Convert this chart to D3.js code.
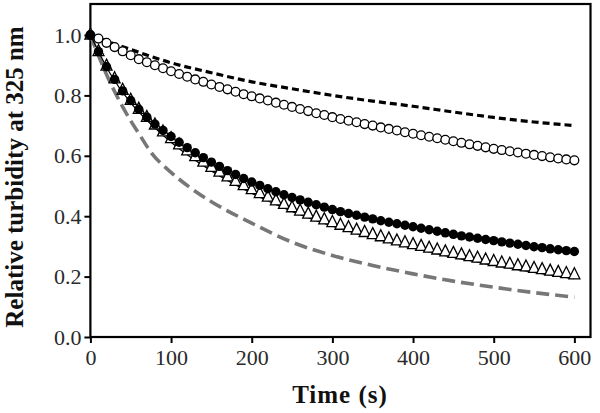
<!DOCTYPE html>
<html><head><meta charset="utf-8">
<script src="https://cdn.jsdelivr.net/npm/d3@7/dist/d3.min.js"></script>
<style>body{margin:0;background:#fff}svg{display:block}</style>
</head><body><svg id="c" width="600" height="413"></svg>
<script>
const xTicks=[0,100,200,300,400,500,600];
const yTicks=[0.0,0.2,0.4,0.6,0.8,1.0];
const markerTimes=d3.range(0,601,10);
const openCircles=[1.000,0.988,0.974,0.960,0.946,0.933,0.920,0.910,0.900,0.890,0.880,0.871,0.862,0.853,0.845,0.836,0.828,0.820,0.812,0.804,0.797,0.790,0.783,0.776,0.769,0.762,0.755,0.748,0.741,0.735,0.728,0.722,0.716,0.711,0.705,0.700,0.694,0.689,0.684,0.678,0.673,0.668,0.663,0.658,0.653,0.648,0.643,0.638,0.633,0.628,0.623,0.619,0.615,0.611,0.607,0.603,0.599,0.595,0.591,0.588,0.585];
const filledCircles=[1.000,0.945,0.895,0.853,0.815,0.783,0.754,0.728,0.705,0.684,0.664,0.645,0.627,0.610,0.594,0.579,0.565,0.551,0.538,0.525,0.513,0.502,0.491,0.481,0.471,0.462,0.454,0.446,0.438,0.430,0.422,0.415,0.409,0.403,0.397,0.391,0.385,0.380,0.375,0.370,0.365,0.360,0.355,0.350,0.345,0.340,0.335,0.331,0.327,0.323,0.319,0.315,0.311,0.307,0.303,0.299,0.296,0.292,0.289,0.286,0.283];
const triangles=[1.000,0.945,0.897,0.855,0.817,0.784,0.754,0.727,0.702,0.679,0.657,0.636,0.616,0.597,0.579,0.562,0.546,0.530,0.515,0.501,0.488,0.475,0.463,0.451,0.439,0.428,0.417,0.407,0.397,0.388,0.379,0.370,0.362,0.354,0.346,0.339,0.332,0.325,0.318,0.312,0.306,0.300,0.294,0.288,0.282,0.277,0.272,0.266,0.261,0.255,0.250,0.245,0.241,0.236,0.232,0.227,0.223,0.218,0.214,0.210,0.206];
const fitTimes=[0,25,50,75,100,150,200,250,300,350,400,450,500,550,600];
const fitLine=[1.0,0.87,0.775,0.705,0.645,0.550,0.476,0.416,0.367,0.328,0.294,0.264,0.238,0.214,0.193];
const blackDashTimes=[0,25,50,100,150,200,250,300,350,400,450,500,550,600];
const blackDash=[1.0,0.975,0.952,0.908,0.875,0.845,0.822,0.800,0.781,0.764,0.745,0.727,0.712,0.700];
const grayDashTimes=[0,10,20,30,40,50,60,75,100,125,150,200,250,300,350,400,450,500,550,600];
const grayDash=[1.0,0.932,0.869,0.813,0.762,0.716,0.674,0.612,0.545,0.492,0.448,0.377,0.314,0.270,0.237,0.209,0.185,0.165,0.147,0.132];

const svg=d3.select("#c");
const L=90.4,R=590.5,T=4,B=337;
const x=d3.scaleLinear().domain([0,620]).range([L,R]);
const y=d3.scaleLinear().domain([0,1.1]).range([B,T+0.8]);
const serif="'Liberation Serif','Times New Roman',serif";

svg.append("rect").attr("x",L).attr("y",T).attr("width",R-L).attr("height",B-T)
  .attr("fill","none").attr("stroke","#000").attr("stroke-width",2.2);

const xa=svg.append("g").attr("transform",`translate(0,${B})`)
  .call(d3.axisBottom(x).tickValues(xTicks).tickSize(6).tickPadding(6).tickFormat(d3.format("d")));
const ya=svg.append("g").attr("transform",`translate(${L},0)`)
  .call(d3.axisLeft(y).tickValues(yTicks).tickSize(6).tickPadding(3).tickFormat(d3.format(".1f")));
[xa,ya].forEach(a=>{a.select(".domain").remove();
  a.selectAll("line").attr("stroke","#000").attr("stroke-width",2);
  a.selectAll("text").attr("font-family",serif).attr("font-size",22).attr("fill","#2a2a2a");});

const line=d3.line().curve(d3.curveMonotoneX);
const g=svg.append("g");
g.append("path").attr("d",line(grayDashTimes.map((t,i)=>[x(t),y(grayDash[i])])))
  .attr("fill","none").attr("stroke","#777").attr("stroke-width",3.6).attr("stroke-dasharray","13,6");
g.append("path").attr("d",line(blackDashTimes.map((t,i)=>[x(t),y(blackDash[i])])))
  .attr("fill","none").attr("stroke","#000").attr("stroke-width",3.2).attr("stroke-dasharray","7,4");
g.append("path").attr("d",line(fitTimes.map((t,i)=>[x(t),y(fitLine[i])])))
  .attr("fill","none").attr("stroke","#000").attr("stroke-width",1.3);

g.selectAll(".tri").data(markerTimes).join("path").attr("class","tri")
  .attr("transform",(t,i)=>`translate(${x(t)},${y(triangles[i])})`)
  .attr("d","M0,-7L5.5,4L-5.5,4Z").attr("fill","#fff").attr("stroke","#000").attr("stroke-width",1.3);
g.selectAll(".oc").data(markerTimes).join("circle").attr("class","oc")
  .attr("cx",t=>x(t)).attr("cy",(t,i)=>y(openCircles[i])).attr("r",4.4)
  .attr("fill","#fff").attr("stroke","#000").attr("stroke-width",1.3);
g.selectAll(".fc").data(markerTimes).join("circle").attr("class","fc")
  .attr("cx",t=>x(t)).attr("cy",(t,i)=>y(filledCircles[i])).attr("r",4.7)
  .attr("fill","#000");

svg.append("text").attr("x",340).attr("y",403).attr("text-anchor","middle")
  .attr("font-family",serif).attr("font-weight","bold").attr("font-size",25).attr("letter-spacing",1)
  .attr("fill","#111").text("Time (s)");
svg.append("text").attr("transform","translate(23,177) rotate(-90)").attr("text-anchor","middle")
  .attr("font-family",serif).attr("font-weight","bold").attr("font-size",25)
  .attr("fill","#111").text("Relative turbidity at 325 nm");
</script></body></html>
